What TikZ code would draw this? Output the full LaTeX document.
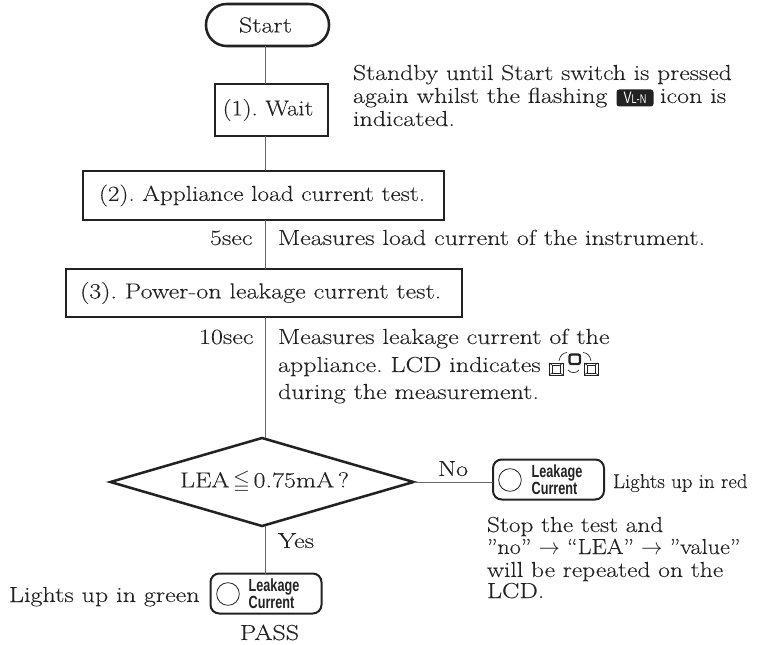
\documentclass[tikz,border=0pt]{standalone}
\usepackage{fontspec}
\usepackage{amssymb}
\setmainfont{Latin Modern Roman}[FakeStretch=1.2,FakeBold=0.12]
\newfontfamily\ledfont{Liberation Sans}[FakeStretch=0.72]
\usetikzlibrary{shapes.geometric}
\AtBeginDocument{\frenchspacing}
\definecolor{ink}{HTML}{222222}
\definecolor{wire}{HTML}{666666}
\tikzset{
  boxsize/.style 2 args={minimum width=#1*0.75pt,minimum height=#2*0.75pt},
  heavy/.style={draw=ink,line width=1.9pt,inner sep=0pt,outer sep=0pt,text=ink,font=\fontsize{16.3}{18}\selectfont},
  plainbox/.style={heavy},
  terminal/.style={heavy,rounded corners=15.5pt},
  lamp/.style={heavy,line width=1.5pt,rounded corners=6.5pt,boxsize={111}{40}},
  bulb/.style={circle,draw=ink,line width=0.6pt,inner sep=0pt,outer sep=0pt,minimum size=17pt},
  ledlabel/.style={inner sep=0pt,text=ink,align=left,font=\ledfont\bfseries\fontsize{13.2}{12.75}\selectfont},
  decision/.style={heavy,diamond,aspect=3.44},
  wire/.style={draw=wire,line width=0.75pt},
  note/.style={inner sep=0pt,outer sep=0pt,anchor=base west,text=ink,font=\fontsize{16.3}{18}\selectfont},
  small/.style={note,font=\fontsize{15}{16}\selectfont},
  cell/.style={draw=ink,line width=0.5pt},
  cellon/.style={draw=ink,line width=1.7pt},
}
\begin{document}
\begin{tikzpicture}[x=0.75pt,y=-0.75pt]
\useasboundingbox (0,0) rectangle (757,645);
\coordinate (axis) at (265,0);
% boxes
\node[terminal,boxsize={123}{42}] (start) at (267.5,25) {Start\hspace*{3pt}};
\node[plainbox,boxsize={113}{52}] (wait) at (271.5,110) {\scalebox{0.95}[1]{(1). Wait}\hspace*{5.2pt}};
\node[plainbox,boxsize={361}{49}] (load) at (263.5,195.5) {\scalebox{0.97}[1]{(2). Appliance load current test.}\hspace*{2.2pt}};
\node[plainbox,boxsize={396}{48}] (leak) at (264,293) {(3). Power-on leakage current test.\hspace*{5pt}};
\node[decision,boxsize={303}{88}] (dec) at (262,482) {\hspace*{3.8pt}LEA\,$\leqq$\,0.75mA\,?};
\node[lamp] (red) at (548.5,479.5) {};
\node[lamp] (green) at (266,593.5) {};
% connectors
\draw[wire] (start.south -| axis) -- (wait.north -| axis);
\draw[wire] (wait.south -| axis) -- (load.north -| axis);
\draw[wire] (load.south -| axis) -- (leak.north -| axis);
\draw[wire] (leak.south -| axis) -- (dec.north -| axis);
\draw[wire] (dec.south -| axis) -- (green.north -| axis);
\draw[wire] (dec.east) -- (red.west |- dec.east);
% lamp contents
\node[bulb] (redbulb) at (510,480) {};
\node[ledlabel] (redtext) at (557,479.5) {Leakage\\Current};
\node[bulb] (greenbulb) at (228,594) {};
\node[ledlabel] (greentext) at (274,593.5) {Leakage\\Current};
% texts
\node[note] (n1) at (353,80) {\scalebox{0.985}[1]{Standby until Start switch is pressed}};
\node[note] (n2) at (353,103) {again whilst the flashing};
\node[note] (n2b) at (660,103) {icon is};
\node[note] (n3) at (353,126) {indicated.};
\node[note] (sec5) at (210,245) {5sec};
\node[note] (n4) at (278,245) {Measures load current of the instrument.};
\node[note] (sec10) at (199,344) {10sec};
\node[note] (n5) at (278,344) {Measures leakage current of the};
\node[note] (n6) at (278,372) {appliance. LCD indicates};
\node[note] (n7) at (278,399) {during the measurement.};
\node[note] (no) at (438,476) {No};
\node[note] (yes) at (278,548) {Yes};
\node[small] (redn) at (613,488) {\scalebox{0.87}[1]{Lights up in red}};
\node[note] (m1) at (487,532) {\scalebox{0.97}[1]{Stop the test and}};
\node[note] (m2) at (487,554) {\scalebox{0.925}[1]{”no” $\rightarrow$ “LEA” $\rightarrow$ ”value”}};
\node[note] (m3) at (487,577) {\scalebox{0.98}[1]{will be repeated on the}};
\node[note] (m4) at (487,598) {LCD.};
\node[note] (greenn) at (9,602) {Lights up in green};
\node[note] (pass) at (240,640) {PASS};
% VL-N icon
\node[fill=ink,rounded corners=2pt,minimum width=37*0.75pt,minimum height=17*0.75pt,inner sep=0pt,text=white,font=\ledfont\fontsize{12.5}{12}\selectfont] (vln) at (635,98) {V\fontsize{9.5}{10}\selectfont L-N};
% cycle icon
\draw[cell] (549,363) rectangle (563,375);
\draw[cell] (552,365) rectangle (560,373);
\draw[cell] (584,363) rectangle (598,375);
\draw[cell] (587,365) rectangle (595,373);
\draw[cell] (549,363) -- (552,365) (563,363) -- (560,365) (549,375) -- (552,373) (563,375) -- (560,373);
\draw[cell] (584,363) -- (587,365) (598,363) -- (595,365) (584,375) -- (587,373) (598,375) -- (595,373);
\draw[cellon,rounded corners=1.5pt] (569.5,354.5) rectangle (580,364);
\draw[cell] (559,361) .. controls (560,355) and (563,353) .. (567,352.5);
\draw[cell] (583,352.5) .. controls (587,353) and (590,355) .. (591,361);
\draw[cell] (568,370) .. controls (571,373.5) and (576,373.5) .. (579,370);
\end{tikzpicture}
\end{document}
